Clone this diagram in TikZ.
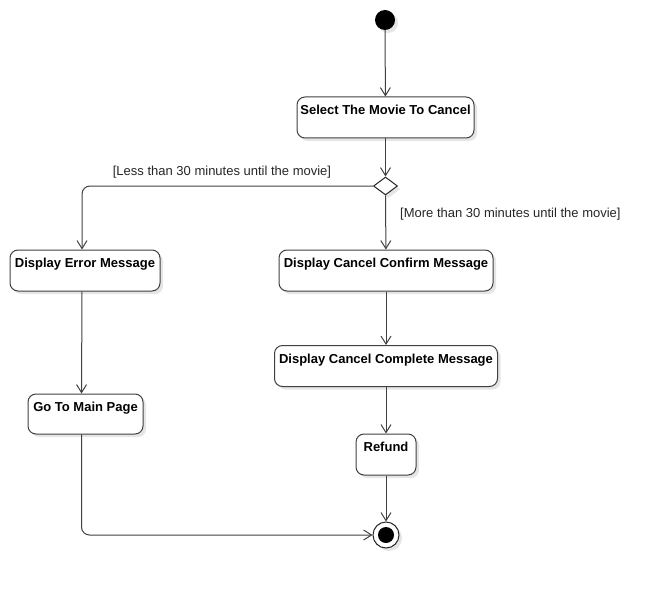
\documentclass[tikz,border=0pt]{standalone}
\usepackage{fontspec}
\setmainfont{Liberation Sans}
\usetikzlibrary{arrows.meta}
\usetikzlibrary{shapes.geometric}
\usetikzlibrary{shadows}

\begin{document}
\begin{tikzpicture}[x=1pt,y=-1pt,
	shade/.style={drop shadow={shadow xshift=3pt,shadow yshift=-3pt,fill=black!10,opacity=1}},
	act/.style={rectangle,rounded corners=8pt,draw=black!75,fill=white,line width=1pt,shade,
		align=center,inner sep=0pt,font=\fontsize{13}{15}\selectfont\bfseries},
	flow/.style={draw=black!75,line width=1pt,-{Straight Barb[length=8pt,width=10pt]}},
	guard/.style={font=\fontsize{13}{15}\selectfont,text=black!85,inner sep=0pt}]
	\useasboundingbox (0,0) rectangle (668,588);

	\node[circle,fill=black,minimum size=20pt,inner sep=0pt,shade](start) at (385,20) {};
	\node[act,minimum width=177pt,minimum height=41pt](select) at (385.5,117.5) {Select The Movie To Cancel\\\mbox{}};
	\node[diamond,draw=black!85,fill=white,line width=1pt,minimum width=24pt,minimum height=18pt,inner sep=0pt,shade](dec) at (385.5,186) {};
	\node[act,minimum width=150pt,minimum height=41pt](error) at (85,270.5) {Display Error Message\\\mbox{}};
	\node[act,minimum width=214pt,minimum height=41pt](confirm) at (386,270.5) {Display Cancel Confirm Message\\\mbox{}};
	\node[act,minimum width=223pt,minimum height=41pt](complete) at (386,366) {Display Cancel Complete Message\\\mbox{}};
	\node[act,minimum width=115pt,minimum height=40pt](gomain) at (85.5,414) {Go To Main Page\\\mbox{}};
	\node[act,minimum width=60pt,minimum height=41pt](refund) at (386,454.5) {Refund\\\mbox{}};
	\node[circle,draw=black!85,fill=white,line width=1pt,minimum size=26pt,inner sep=0pt,shade,
		path picture={\fill[black] (path picture bounding box.center) circle (8pt);}](finish) at (386,535) {};

	\node[guard](gless) at (222,172) {[Less than 30 minutes until the movie]};
	\node[guard,anchor=west](gmore) at (400,214) {[More than 30 minutes until the movie]};

	\draw[flow] (start) -- (select);
	\draw[flow] (select) -- (dec);
	\draw[flow,rounded corners=8pt] (dec.west) -| ([xshift=-3pt]error.north);
	\draw[flow] (dec) -- (confirm);
	\draw[flow] ([xshift=-3pt]error.south) -- ([xshift=-4pt]gomain.north);
	\draw[flow] (confirm) -- (complete);
	\draw[flow] (complete) -- (refund);
	\draw[flow] (refund) -- (finish);
	\draw[flow,rounded corners=8pt] ([xshift=-4pt]gomain.south) |- (finish);
\end{tikzpicture}
\end{document}
